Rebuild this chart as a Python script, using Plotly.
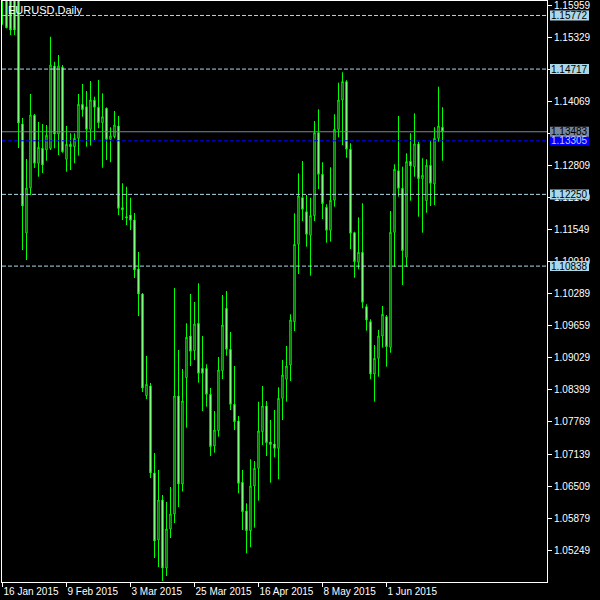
import pandas as pd
import plotly.graph_objects as go

# ---------------- data ----------------
dates = [d.strftime("%Y-%m-%d") for d in pd.bdate_range("2015-01-16", "2015-06-19")]

opens = [1.1635, 1.1640, 1.1620, 1.1615, 1.1612, 1.13636, 1.11490, 1.12376, 1.13807, 1.12862,
         1.13157, 1.13124, 1.13157, 1.14778, 1.13439, 1.14752, 1.12941, 1.13236, 1.13189, 1.13354,
         1.14024, 1.13976, 1.13531, 1.14103, 1.13965, 1.13661, 1.13945, 1.13335, 1.13386, 1.13596,
         1.11988, 1.11811, 1.11844, 1.11746, 1.10781, 1.10289, 1.08287, 1.08478, 1.06765, 1.05446,
         1.06233, 1.04895, 1.05662, 1.05958, 1.08281, 1.06548, 1.08641, 1.09462, 1.09173, 1.09712,
         1.08826, 1.08826, 1.08314, 1.07296, 1.07598, 1.08779, 1.10007, 1.09200, 1.08117, 1.07789,
         1.06582, 1.06017, 1.05629, 1.06509, 1.06857, 1.07578, 1.08084, 1.07375, 1.07336, 1.07251,
         1.08236, 1.08610, 1.08891, 1.09743, 1.11267, 1.12185, 1.11909, 1.11445, 1.11830, 1.13464,
         1.12645, 1.11996, 1.11543, 1.12134, 1.13531, 1.14108, 1.14469, 1.13138, 1.11496, 1.10913,
         1.11110, 1.10039, 1.09743, 1.08714, 1.09023, 1.09462, 1.09842, 1.09239, 1.11504, 1.12716,
         1.12370, 1.11011, 1.12901, 1.12795, 1.13242, 1.12559, 1.12126, 1.12823, 1.12455, 1.13354,
         1.13571]

highs = [1.1660, 1.1655, 1.1635, 1.1625, 1.1625, 1.13754, 1.12947, 1.14226, 1.13833, 1.13675,
         1.13636, 1.13616, 1.15354, 1.14862, 1.14994, 1.14797, 1.13596, 1.13453, 1.13453, 1.14226,
         1.14423, 1.14285, 1.14482, 1.14173, 1.14502, 1.14240, 1.13960, 1.13571, 1.13892, 1.13793,
         1.12468, 1.12401, 1.12185, 1.11884, 1.11116, 1.10308, 1.09068, 1.08537, 1.07159, 1.06824,
         1.06332, 1.06194, 1.06489, 1.10407, 1.09186, 1.08812, 1.09712, 1.10289, 1.10131, 1.10500,
         1.09462, 1.08905, 1.08438, 1.07985, 1.09049, 1.10269, 1.10348, 1.09541, 1.08871, 1.07887,
         1.06824, 1.06168, 1.07035, 1.07001, 1.08169, 1.08478, 1.08182, 1.07808, 1.08005, 1.08452,
         1.08990, 1.09265, 1.09889, 1.11878, 1.12665, 1.12907, 1.12238, 1.12185, 1.13695, 1.13925,
         1.12882, 1.12055, 1.12783, 1.13827, 1.14449, 1.14654, 1.14500, 1.13256, 1.11515, 1.11799,
         1.12075, 1.10086, 1.09791, 1.09285, 1.09580, 1.10053, 1.09875, 1.11923, 1.12842, 1.13793,
         1.12795, 1.13059, 1.13453, 1.13846, 1.13287, 1.12961, 1.12941, 1.13307, 1.13571, 1.14370,
         1.13965]

lows = [1.1559, 1.1552, 1.15388, 1.15388, 1.13163, 1.11155, 1.10958, 1.12238, 1.12770, 1.12598,
        1.12671, 1.12913, 1.13124, 1.13157, 1.13025, 1.13070, 1.12697, 1.12730, 1.12862, 1.13012,
        1.13779, 1.13189, 1.13209, 1.13321, 1.13551, 1.12775, 1.12927, 1.12882, 1.13354, 1.11844,
        1.11746, 1.11647, 1.11549, 1.10604, 1.09856, 1.08360, 1.08222, 1.06666, 1.05091, 1.04914,
        1.04639, 1.04737, 1.05485, 1.05780, 1.06095, 1.06400, 1.07657, 1.08871, 1.08990, 1.08543,
        1.07985, 1.08070, 1.07100, 1.07165, 1.07480, 1.08615, 1.09074, 1.08005, 1.07611, 1.06365,
        1.05643, 1.05184, 1.05302, 1.05688, 1.06220, 1.07316, 1.07100, 1.06574, 1.07074, 1.06641,
        1.07808, 1.08169, 1.08576, 1.09560, 1.10683, 1.11726, 1.11220, 1.10649, 1.11726, 1.12356,
        1.11765, 1.11299, 1.11319, 1.12008, 1.13374, 1.13222, 1.12972, 1.11175, 1.10610, 1.10775,
        1.10007, 1.09566, 1.08610, 1.08169, 1.08661, 1.09232, 1.08858, 1.09133, 1.10826, 1.12205,
        1.10466, 1.10826, 1.12126, 1.12598, 1.11811, 1.11496, 1.11889, 1.12021, 1.12041, 1.13287,
        1.12913]

closes = [1.1614, 1.1553, 1.15486, 1.15486, 1.13655, 1.12021, 1.12376, 1.13813, 1.12862, 1.13177,
          1.12829, 1.13413, 1.14797, 1.13439, 1.14778, 1.13090, 1.13236, 1.13189, 1.13354, 1.14024,
          1.13917, 1.13531, 1.14108, 1.13965, 1.13661, 1.13779, 1.13335, 1.13400, 1.13616, 1.11976,
          1.11948, 1.11785, 1.11740, 1.10761, 1.10289, 1.08438, 1.08511, 1.06765, 1.05426, 1.06233,
          1.04895, 1.05662, 1.05958, 1.08281, 1.06548, 1.08182, 1.09436, 1.09161, 1.09698, 1.08728,
          1.08728, 1.08314, 1.07283, 1.07611, 1.08793, 1.09679, 1.09200, 1.08117, 1.07775, 1.06562,
          1.06003, 1.05629, 1.06509, 1.06857, 1.07592, 1.08084, 1.07361, 1.07326, 1.07251, 1.08236,
          1.08694, 1.08871, 1.09777, 1.11267, 1.12218, 1.11956, 1.11464, 1.11830, 1.13464, 1.12645,
          1.12067, 1.11543, 1.12134, 1.13531, 1.14108, 1.14469, 1.13138, 1.11484, 1.10925, 1.11110,
          1.10126, 1.09777, 1.08714, 1.09023, 1.09462, 1.09889, 1.09251, 1.11504, 1.12744, 1.12370,
          1.11141, 1.12894, 1.12809, 1.13242, 1.12559, 1.12626, 1.12823, 1.12468, 1.13354, 1.13596,
          1.13483]

x_tick_dates = ["2015-01-16", "2015-02-09", "2015-03-03", "2015-03-25",
                "2015-04-16", "2015-05-08", "2015-06-01"]
x_tick_labels = ["16 Jan 2015", "9 Feb 2015", "3 Mar 2015", "25 Mar 2015",
                 "16 Apr 2015", "8 May 2015", "1 Jun 2015"]

y_ticks = [1.15959, 1.15329, 1.14699, 1.14069, 1.13439, 1.12809, 1.12179, 1.11549, 1.10919,
           1.10289, 1.09659, 1.09029, 1.08399, 1.07769, 1.07139, 1.06509, 1.05879, 1.05249]
# tick labels fully hidden behind price boxes in the reference
y_ticks_hidden = [1.14699, 1.13439]

level_lines = [1.15772, 1.14717, 1.12250, 1.10838]
bid_price = 1.13483
ask_price = 1.13305
chart_title = "EURUSD,Daily"

# ---------------- layout geometry ----------------
Y_MIN, Y_MAX = 1.04619, 1.16057
X_MIN, X_MAX = -0.125, 136.125
ML, MR, MT, MB = 2, 53, 1, 18
PW = 600 - ML - MR
PH = 600 - MT - MB

FONT = "Liberation Sans"
GREEN = "#00ff00"
LEVEL_COLOR = "#add8e6"
BID_COLOR = "#778899"
ASK_COLOR = "#0000ff"


def px_x(px):
    return (px - ML) / PW


def val_to_paper_y(v):
    return (v - Y_MIN) / (Y_MAX - Y_MIN)


fig = go.Figure()
fig.add_trace(go.Candlestick(
    x=dates, open=opens, high=highs, low=lows, close=closes,
    increasing=dict(line=dict(color=GREEN, width=1), fillcolor="black"),
    decreasing=dict(line=dict(color=GREEN, width=1), fillcolor="white"),
    whiskerwidth=0,
    hoverinfo="skip",
    showlegend=False,
))

shapes = []
annotations = []

for lv in level_lines:
    shapes.append(dict(type="line", xref="paper", yref="y", x0=0, x1=1, y0=lv, y1=lv,
                       line=dict(color=LEVEL_COLOR, width=1, dash="4px,2px"), layer="above"))
shapes.append(dict(type="line", xref="paper", yref="y", x0=0, x1=1, y0=ask_price, y1=ask_price,
                   line=dict(color=ASK_COLOR, width=1, dash="4px,2px"), layer="above"))
shapes.append(dict(type="line", xref="paper", yref="y", x0=0, x1=1, y0=bid_price, y1=bid_price,
                   line=dict(color=BID_COLOR, width=1), layer="above"))

labels = [(lv, LEVEL_COLOR, "black") for lv in level_lines]
labels.append((ask_price, ASK_COLOR, "#c8c8ff"))
labels.append((bid_price, BID_COLOR, "black"))

half_h = 5.0 / PH
for lv, bg, fg in labels:
    yc = val_to_paper_y(lv)
    shapes.append(dict(type="rect", xref="paper", yref="paper",
                       x0=px_x(550), x1=px_x(589), y0=yc - half_h, y1=yc + half_h,
                       fillcolor=bg, line=dict(width=0), layer="above"))
    annotations.append(dict(xref="paper", yref="paper", x=px_x(569.5), y=yc,
                            xanchor="center", yanchor="middle", showarrow=False,
                            text=f"{lv:.5f}", font=dict(family=FONT, size=10, color=fg)))

annotations.append(dict(xref="paper", yref="paper", x=px_x(6), y=1 - (10 - MT) / PH,
                        xanchor="left", yanchor="middle", showarrow=False,
                        text=chart_title, font=dict(family=FONT, size=11, color="white")))

fig.update_layout(
    width=600, height=600,
    margin=dict(l=ML, r=MR, t=MT, b=MB, autoexpand=False),
    paper_bgcolor="black", plot_bgcolor="black",
    boxgap=0.5,
    showlegend=False,
    shapes=shapes,
    annotations=annotations,
    xaxis=dict(
        type="category", range=[X_MIN, X_MAX],
        tickmode="array", tickvals=x_tick_dates, ticktext=x_tick_labels,
        ticks="outside", ticklen=4, tickcolor="white", tickwidth=1,
        tickangle=0, automargin=False,
        ticklabelposition="outside right",
        tickfont=dict(family=FONT, size=10, color="white"),
        showgrid=False, zeroline=False,
        showline=True, linecolor="white", linewidth=1, mirror=True,
        rangeslider=dict(visible=False),
        fixedrange=True,
    ),
    yaxis=dict(
        side="right", range=[Y_MIN, Y_MAX], automargin=False,
        tickmode="array", tickvals=y_ticks,
        ticktext=["" if v in y_ticks_hidden else f"{v:.5f}" for v in y_ticks],
        ticks="outside", ticklen=4, tickcolor="white", tickwidth=1,
        tickfont=dict(family=FONT, size=10, color="white"),
        showgrid=False, zeroline=False,
        showline=True, linecolor="white", linewidth=1, mirror=True,
        fixedrange=True,
    ),
)

fig.write_html(
    "out.html",
    config={"displayModeBar": False},
    post_script="document.body.style.margin='0';document.body.style.background='black';",
)
